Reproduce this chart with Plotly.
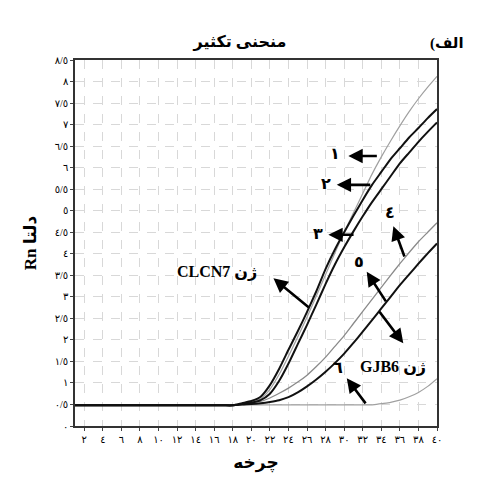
import plotly.graph_objects as go

cycles = list(range(1, 41))
base18 = [0.48] * 18

curve1 = base18 + [0.52, 0.55, 0.63, 0.85, 1.2, 1.62, 2.07, 2.53, 3.02, 3.52, 4.02, 4.5, 4.95, 5.4, 5.85, 6.25, 6.62, 6.97, 7.3, 7.6, 7.87, 8.12]
curve2 = base18 + [0.53, 0.58, 0.68, 0.95, 1.33, 1.77, 2.2, 2.65, 3.13, 3.65, 4.1, 4.5, 4.88, 5.25, 5.6, 5.9, 6.2, 6.45, 6.7, 6.92, 7.15, 7.36]
curve3 = base18 + [0.51, 0.54, 0.6, 0.75, 1.05, 1.45, 1.9, 2.35, 2.82, 3.3, 3.75, 4.15, 4.52, 4.87, 5.2, 5.5, 5.8, 6.1, 6.35, 6.6, 6.83, 7.05]
curve4 = base18 + [0.51, 0.53, 0.57, 0.65, 0.76, 0.88, 1.02, 1.18, 1.38, 1.6, 1.85, 2.1, 2.38, 2.66, 2.94, 3.22, 3.5, 3.77, 4.03, 4.28, 4.5, 4.72]
curve5 = base18 + [0.5, 0.51, 0.53, 0.56, 0.6, 0.67, 0.78, 0.92, 1.08, 1.26, 1.46, 1.68, 1.93, 2.19, 2.46, 2.73, 3.0, 3.27, 3.52, 3.77, 4.01, 4.24]
curve6 = base18 + [0.49] * 15 + [0.52, 0.55, 0.6, 0.68, 0.78, 0.92, 1.1]

x_tickvals = list(range(2, 41, 2))
x_ticktext = ["٢", "٤", "٦", "٨", "١٠", "١٢", "١٤", "١٦", "١٨", "٢٠",
              "٢٢", "٢٤", "٢٦", "٢٨", "٣٠", "٣٢", "٣٤", "٣٦", "٣٨", "٤٠"]
y_tickvals = [i * 0.5 for i in range(18)]
y_ticktext = ["٠", "٠/٥", "١", "١/٥", "٢", "٢/٥", "٣", "٣/٥", "٤", "٤/٥",
              "٥", "٥/٥", "٦", "٦/٥", "٧", "٧/٥", "٨", "٨/٥"]

series = [
    (curve1, "#a0a0a0", 1.2),
    (curve4, "#8a8a8a", 1.3),
    (curve6, "#a0a0a0", 1.2),
    (curve3, "#111111", 2.0),
    (curve2, "#111111", 2.0),
    (curve5, "#111111", 2.0),
]

fig = go.Figure()
for ys, col, w in series:
    fig.add_trace(go.Scatter(x=cycles, y=ys, mode="lines",
                             line=dict(color=col, width=w, shape="spline", smoothing=0.6),
                             hoverinfo="skip", showlegend=False))

ar_font = "Liberation Serif, DejaVu Sans, serif"

def arrow(tx, ty, hx, hy):
    return dict(x=hx, y=hy, ax=tx, ay=ty, xref="x", yref="y", axref="x", ayref="y",
                showarrow=True, arrowhead=2, arrowsize=1.1, arrowwidth=2.6,
                arrowcolor="black", text="")

def label(x, y, t, size=16):
    return dict(x=x, y=y, xref="x", yref="y", text="<b>" + t + "</b>", showarrow=False,
                font=dict(family=ar_font, size=size, color="black"))

annotations = [
    arrow(33.68, 6.27, 30.45, 6.27), label(29.0, 6.34, "١"),
    arrow(32.97, 5.60, 29.2, 5.60), label(28.05, 5.64, "٢"),
    arrow(31.17, 4.44, 28.3, 4.44), label(27.2, 4.48, "٣"),
    arrow(36.55, 3.9, 35.3, 4.64), label(34.94, 4.95, "٤"),
    arrow(34.6, 2.86, 32.43, 3.58), label(31.55, 3.82, "٥"),
    arrow(33.68, 2.69, 36.37, 1.92), label(35.3, 1.37, "GJB6 ژن"),
    arrow(32.43, 0.49, 30.28, 1.11), label(29.34, 1.37, "٦"),
    arrow(26.33, 2.73, 22.38, 3.43), label(16.3, 3.58, "CLCN7 ژن"),
    dict(xref="paper", yref="paper", x=(466 - 75) / 362, y=1 + (60 - 33) / 366,
         text="<b>(الف</b>", showarrow=False,
         font=dict(family=ar_font, size=15, color="black")),
]

# the page body has an 8px default margin; size the figure so the plot sits where the reference does
fig.update_layout(
    width=489, height=474,
    margin=dict(l=67, r=60, t=52, b=56),
    paper_bgcolor="white", plot_bgcolor="white",
    title=dict(text="<b>منحنی تکثیر</b>", x=(240 - 8) / 489, y=1 - 33 / 474,
               xanchor="center", yanchor="middle",
               font=dict(family=ar_font, size=16, color="black")),
    annotations=annotations,
    font=dict(family=ar_font, color="black"),
)
fig.update_xaxes(range=[1, 40], tickvals=x_tickvals, ticktext=x_ticktext,
                 tickfont=dict(size=10, family=ar_font), ticks="outside", ticklen=3,
                 showline=True, linecolor="#333", linewidth=1.5, mirror=True,
                 showgrid=True, gridcolor="#d8d8d8", griddash="dash", gridwidth=1,
                 zeroline=False,
                 title=dict(text="<b>چرخه</b>", font=dict(size=17, family=ar_font), standoff=12))
fig.update_yaxes(range=[0, 8.5], tickvals=y_tickvals, ticktext=y_ticktext,
                 tickfont=dict(size=10, family=ar_font), ticks="outside", ticklen=3,
                 showline=True, linecolor="#333", linewidth=1.5, mirror=True,
                 showgrid=True, gridcolor="#d8d8d8", griddash="dash", gridwidth=1,
                 zeroline=False,
                 title=dict(text="<b>Rn دلتا</b>", font=dict(size=17, family=ar_font), standoff=14))

fig.write_html("out.html")
